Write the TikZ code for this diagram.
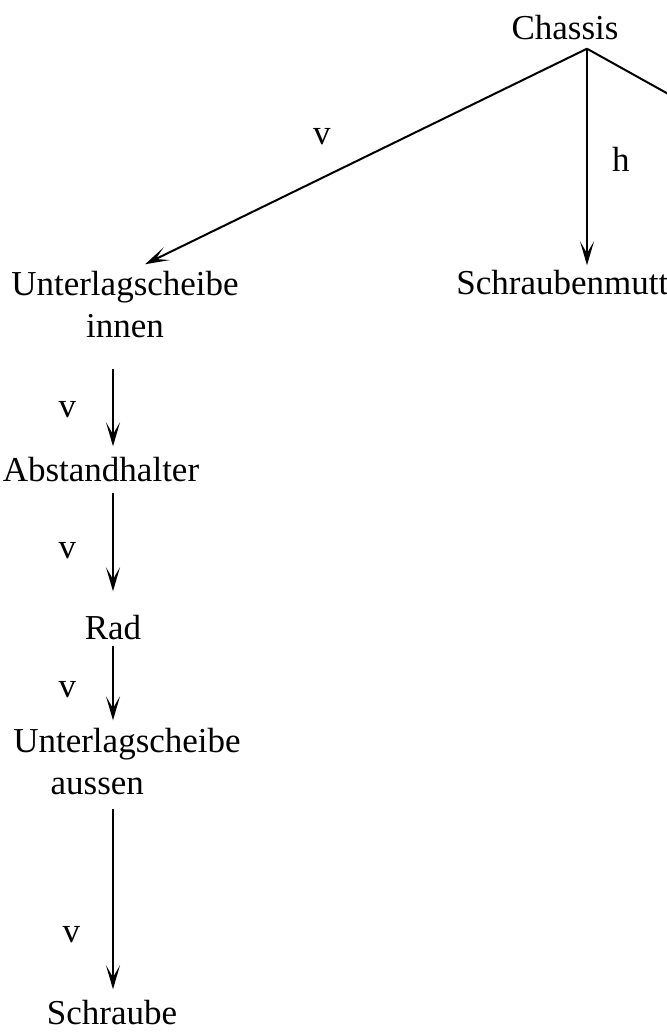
\documentclass[tikz,border=0pt]{standalone}
\usepackage{fontspec}
\setmainfont{Liberation Serif}
\usetikzlibrary{arrows.meta}

\begin{document}
\begin{tikzpicture}[x=0.5pt, y=-0.5pt,
                teil/.style={inner sep=0pt, align=center, font=\fontsize{17.5}{21}\selectfont},
                marke/.style={inner sep=0pt, font=\fontsize{17.5}{21}\selectfont},
                pfeil/.style={-{Stealth[length=12pt,width=7pt,inset=6pt]}, line width=1pt}]
                \useasboundingbox (0,0) rectangle (667,1033);
                \clip (0,0) rectangle (667,1033);
                \node[teil] (chassis) at (565,28) {Chassis};
                \coordinate (spitze) at ([xshift=11pt,yshift=-4pt]chassis.south);
                \coordinate (rechts) at (900,223);
                \node[teil] (mutter) at (576,283) {Schraubenmutter};
                \node[teil] (innen) at (125,305) {Unterlagscheibe\\innen};
                \node[teil] (abstand) at (101,470) {Abstandhalter};
                \node[teil] (rad) at (113,628) {Rad};
                \node[teil] (aussen) at (127,762) {Unterlagscheibe\\aussen\hspace*{1.7em}};
                \node[teil] (schraube) at (112,1013) {Schraube};
                % Chassis
                \draw[pfeil] (spitze) -- ([shift={(10pt,3.5pt)}]innen.north)
                    node[marke, pos=0.6, above=16pt] (v1) {v};
                \draw[pfeil, shorten >=2.5pt] (spitze) -- (spitze |- mutter.north)
                    node[marke, midway, right=12pt] (h1) {h};
                \draw[pfeil] (spitze) -- (rechts);
                % Kette links
                \draw[pfeil, shorten <=15pt, shorten >=5.5pt] (innen.south -| rad) -- (abstand.north -| rad)
                    node[marke, pos=0.6, left=18pt] (v2) {v};
                \draw[pfeil, shorten <=5pt, shorten >=12pt] (abstand.south -| rad) -- (rad.north)
                    node[marke, pos=0.51, left=18pt] (v3) {v};
                \draw[pfeil, shorten <=2.5pt, shorten >=4pt] (rad.south) -- (aussen.north -| rad)
                    node[marke, pos=0.56, left=18pt] (v4) {v};
                \draw[pfeil, shorten <=6.5pt, shorten >=5.5pt] (aussen.south -| rad) -- (schraube.north -| rad)
                    node[marke, pos=0.68, left=16pt] (v5) {v};
\end{tikzpicture}
\end{document}
